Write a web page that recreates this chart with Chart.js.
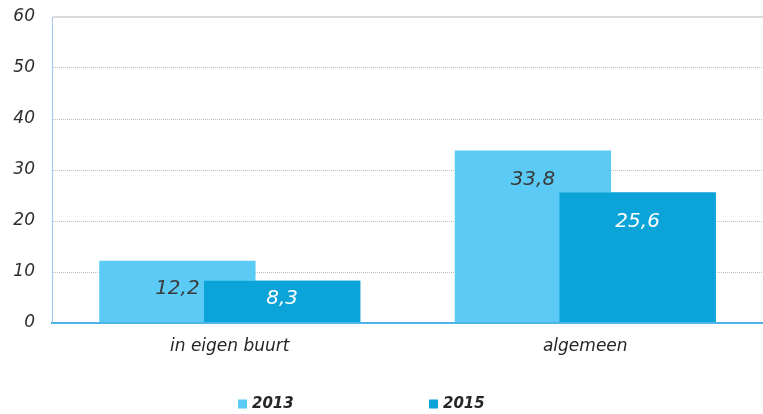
<!DOCTYPE html>
<html>
<head>
<meta charset="utf-8">
<script src="https://cdn.jsdelivr.net/npm/chart.js@4/dist/chart.umd.min.js"></script>
<style>
  html, body { margin: 0; padding: 0; background: #ffffff; }
  #wrap { width: 763px; height: 414px; }
</style>
</head>
<body>
<div id="wrap"><canvas id="c" width="763" height="414"></canvas></div>
<script>
const categories = ['in eigen buurt', 'algemeen'];
const series2013 = [12.2, 33.8];
const series2015 = [8.3, 25.6];
const seriesLabels = ['2013', '2015'];
const yTicks = [0, 10, 20, 30, 40, 50, 60];

const FONT = '"DejaVu Sans", Verdana, sans-serif';
const colors = ['#5BCBF5', '#0CA4D8'];
const labelColors = ['#3a3a3a', '#ffffff'];

// Chart.js paints the first dataset on top; repaint the later series so it overlaps the earlier one
const overlapOrder = {
  id: 'overlapOrder',
  afterDatasetsDraw(chart) {
    const ctx = chart.ctx;
    const area = chart.chartArea;
    ctx.save();
    ctx.beginPath();
    ctx.rect(area.left, area.top, area.right - area.left, area.bottom - area.top);
    ctx.clip();
    for (let di = 1; di < chart.data.datasets.length; di++) {
      chart.getDatasetMeta(di).data.forEach(el => el.draw(ctx));
    }
    ctx.restore();
  }
};

const valueLabels = {
  id: 'valueLabels',
  afterDatasetsDraw(chart) {
    const ctx = chart.ctx;
    ctx.save();
    ctx.font = 'italic 20px ' + FONT;
    ctx.textAlign = 'center';
    ctx.textBaseline = 'middle';
    chart.data.datasets.forEach((ds, di) => {
      const meta = chart.getDatasetMeta(di);
      meta.data.forEach((el, i) => {
        const v = ds.data[i];
        const y = Math.min(el.y + 29, (el.y + el.base) / 2 - 3);
        ctx.fillStyle = labelColors[di];
        ctx.fillText(String(v).replace('.', ','), el.x, y);
      });
    });
    ctx.restore();
  }
};

const customLegend = {
  id: 'customLegend',
  afterDraw(chart) {
    const ctx = chart.ctx;
    ctx.save();
    ctx.font = 'italic bold 15px ' + FONT;
    ctx.textAlign = 'left';
    ctx.textBaseline = 'middle';
    const startX = chart.width / 2 - 143.5;
    const step = 191;
    const cy = 404;
    chart.data.datasets.forEach((ds, i) => {
      const x = startX + i * step;
      ctx.fillStyle = ds.backgroundColor;
      ctx.fillRect(x, cy - 4.5, 9, 9);
      ctx.fillStyle = '#262626';
      ctx.fillText(ds.label, x + 14, cy);
    });
    ctx.restore();
  }
};

new Chart(document.getElementById('c'), {
  type: 'bar',
  data: {
    labels: categories,
    datasets: [
      { label: seriesLabels[0], data: series2013, backgroundColor: colors[0], borderWidth: 0 },
      { label: seriesLabels[1], data: series2015, backgroundColor: colors[1], borderWidth: 0 }
    ]
  },
  options: {
    responsive: false,
    animation: false,
    events: [],
    categoryPercentage: 0.589,
    barPercentage: 1.493,
    layout: { padding: { top: 17, right: -5, left: 0, bottom: 0 } },
    plugins: {
      legend: { display: false },
      tooltip: { enabled: false },
      title: { display: false }
    },
    scales: {
      x: {
        grid: { display: false, drawTicks: false },
        border: { display: true, color: '#4EB3E6', width: 2, z: 1 },
        ticks: {
          padding: 13,
          color: '#262626',
          font: { family: FONT, size: 17, style: 'italic' }
        },
        afterFit(scale) { scale.height = 91; }
      },
      y: {
        min: 0,
        max: 60,
        afterBuildTicks(scale) { scale.ticks = yTicks.map(v => ({ value: v })); },
        grid: {
          drawTicks: false,
          color: c => (c.tick && c.tick.value === 60) ? '#DADADA' : '#BEBEBE',
          lineWidth: c => (c.tick && c.tick.value === 60) ? 2 : 1
        },
        border: {
          display: true,
          color: '#9CC8EE',
          width: 1,
          dash: c => (c.tick && c.tick.value !== 60) ? [1, 1] : []
        },
        ticks: {
          padding: 17,
          color: '#2e2e2e',
          font: { family: FONT, size: 17, style: 'italic' }
        },
        afterFit(scale) {
          scale.width = 52;
          scale.paddingTop = 0;
          scale.paddingBottom = 0;
        }
      }
    }
  },
  plugins: [overlapOrder, valueLabels, customLegend]
});
</script>
</body>
</html>
